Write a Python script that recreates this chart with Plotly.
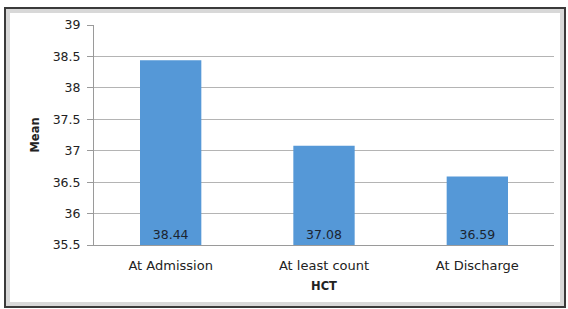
import plotly.graph_objects as go

categories = ["At Admission", "At least count", "At Discharge"]
means = [38.44, 37.08, 36.59]
axis_min = 35.5
y_ticks = [35.5, 36, 36.5, 37, 37.5, 38, 38.5, 39]

fig = go.Figure()
fig.add_trace(go.Bar(
    x=categories,
    y=[m - axis_min for m in means],
    base=[axis_min] * len(means),
    text=[f"{m:.2f}" for m in means],
    textposition="inside",
    insidetextanchor="start",
    textfont=dict(family="DejaVu Sans", size=12.5, color="#1b2430"),
    marker=dict(color="#5598d7", line=dict(width=0)),
    hovertemplate="%{x}: %{text}<extra></extra>",
))

L, R, T, B = 94, 14, 25, 64
W, H = 568, 309
pw, ph = W - L - R, H - T - B

def px(x):
    return (x - L) / pw

def py(y):
    return (H - B - y) / ph

fig.update_layout(
    width=W, height=H,
    margin=dict(l=L, r=R, t=T, b=B),
    paper_bgcolor="white", plot_bgcolor="white",
    bargap=0.6,
    showlegend=False,
    font=dict(family="DejaVu Sans", size=12, color="#222222"),
    xaxis=dict(
        title=dict(text="<b>HCT</b>", font=dict(size=11.5, color="#222"), standoff=10),
        showline=True, linecolor="#9a9a9a", linewidth=1,
        ticks="", ticklabelstandoff=8, tickfont=dict(size=13, color="#222"),
    ),
    yaxis=dict(
        title=dict(text="<b>Mean</b>", font=dict(size=11.5, color="#222"), standoff=10),
        range=[35.5, 39], tickvals=y_ticks, ticktext=[f"{t:g}" for t in y_ticks],
        showgrid=True, gridcolor="#b4b4b4", gridwidth=1,
        showline=True, linecolor="#9a9a9a", linewidth=1,
        ticks="outside", ticklen=6, tickcolor="#9a9a9a", ticklabelstandoff=4,
        tickfont=dict(size=12.5, color="#222"), zeroline=False,
    ),
    shapes=[
        dict(type="rect", xref="paper", yref="paper",
             x0=px(8), x1=px(562), y0=py(304), y1=py(11),
             line=dict(color="#d8d8d8", width=4), layer="below"),
        dict(type="rect", xref="paper", yref="paper",
             x0=px(5), x1=px(565), y0=py(307), y1=py(8),
             line=dict(color="#3a3a3a", width=2), layer="below"),
    ],
)

fig.write_html("out.html", config={"displayModeBar": False},
               post_script="document.body.style.margin='0';")
